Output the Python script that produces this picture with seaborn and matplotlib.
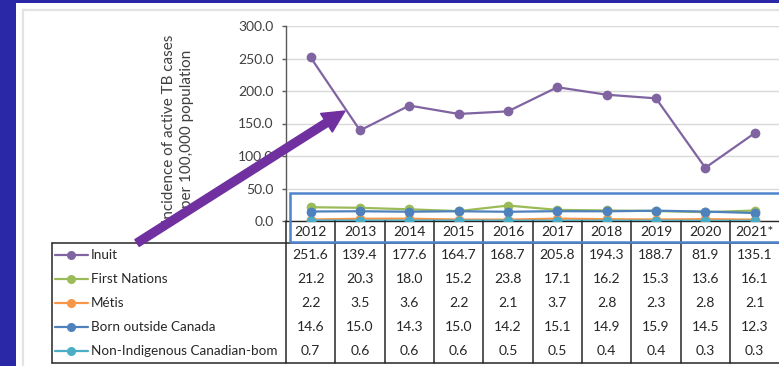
import numpy as np
import pandas as pd
import seaborn as sns
import matplotlib
matplotlib.use("Agg")
import matplotlib.pyplot as plt
from matplotlib.patches import Rectangle, FancyArrow
from matplotlib.lines import Line2D

# ---------------- data ----------------
years = ["2012", "2013", "2014", "2015", "2016", "2017", "2018", "2019", "2020", "2021*"]
series_names = ["Inuit", "First Nations", "Métis", "Born outside Canada", "Non-Indigenous Canadian-bom"]
inuit = [251.6, 139.4, 177.6, 164.7, 168.7, 205.8, 194.3, 188.7, 81.9, 135.1]
first_nations = [21.2, 20.3, 18.0, 15.2, 23.8, 17.1, 16.2, 15.3, 13.6, 16.1]
metis = [2.2, 3.5, 3.6, 2.2, 2.1, 3.7, 2.8, 2.3, 2.8, 2.1]
born_outside = [14.6, 15.0, 14.3, 15.0, 14.2, 15.1, 14.9, 15.9, 14.5, 12.3]
non_indigenous = [0.7, 0.6, 0.6, 0.6, 0.5, 0.5, 0.4, 0.4, 0.3, 0.3]
y_ticks = [0, 50, 100, 150, 200, 250, 300]
y_label = "Incidence of active TB cases\nper 100,000 population"

colors = ["#8064a2", "#9bbb59", "#f79646", "#4f81bd", "#4bacc6"]
values = [inuit, first_nations, metis, born_outside, non_indigenous]

rows = []
for name, vals in zip(series_names, values):
    for i, v in enumerate(vals):
        rows.append({"x": i, "year": years[i], "value": v, "group": name})
df = pd.DataFrame(rows)

# ---------------- figure ----------------
W, H = 779, 366
DPI = 100
sns.set_theme(style="white")
plt.rcParams["font.family"] = ["Lato", "DejaVu Sans"]

fig = plt.figure(figsize=(W / DPI, H / DPI), dpi=DPI)
fig.patch.set_facecolor("#2b28a8")

def fx(px):
    return px / W

def fy(py):
    return 1 - py / H

# white panel + faint inner frame
fig.patches.append(Rectangle((fx(16), 0), 1 - fx(16) + 0.01, fy(3), transform=fig.transFigure,
                             facecolor="white", edgecolor="none", zorder=-2))
fig.patches.append(Rectangle((fx(22.5), -0.05), 1.1, fy(9.5) + 0.05, transform=fig.transFigure,
                             facecolor="none", edgecolor="#e3e3e3", lw=1.6, zorder=-1))

px_unit = 49.33
ax_left, ax_right = 286, 779
ax_top, ax_bot = 26, 221
ax = fig.add_axes([fx(ax_left), fy(ax_bot), fx(ax_right - ax_left), (ax_bot - ax_top) / H])
ax.set_zorder(1)
ax.patch.set_alpha(0)
xmax = -0.5 + (ax_right - ax_left) / px_unit

sns.lineplot(data=df, x="x", y="value", hue="group", hue_order=series_names,
             palette=colors, marker="o", markersize=7, markeredgewidth=0,
             linewidth=1.6, legend=False, ax=ax, zorder=3)

ax.set_xlim(-0.5, xmax)
ax.set_ylim(0, 300)
ax.set_yticks(y_ticks)
ax.set_yticklabels([f"{t:.1f}" for t in y_ticks], fontsize=10, color="#404040")
ax.set_xticks([])
ax.set_xlabel("")
ax.set_ylabel("")
ax.grid(axis="y", color="#d9d9d9", lw=1)
ax.set_axisbelow(True)
for s in ["top", "right"]:
    ax.spines[s].set_visible(False)
ax.spines["left"].set_color("#595959")
ax.spines["left"].set_linewidth(1)
ax.spines["bottom"].set_color("#262626")
ax.spines["bottom"].set_linewidth(1)
ax.tick_params(axis="y", left=True, length=3, width=1, color="#595959", pad=6)

fig.text(fx(178), fy(129), y_label, rotation=90, ha="center", va="center",
         fontsize=11, color="#404040", linespacing=1.3, multialignment="center", zorder=2)

# ---------------- data table ----------------
tab_left, tab_top, tab_bot = 52, 221, 363
head_h = 22.0
row_h = 24.0
tx = fig.add_axes([fx(tab_left), fy(tab_bot), fx(W - tab_left), (tab_bot - tab_top) / H])
tx.set_zorder(1)
tx.patch.set_alpha(0)
tx.set_axis_off()
tx.set_xlim(-0.5 - (ax_left - tab_left) / px_unit, xmax)
hh = head_h / row_h
tx.set_ylim(5, -hh)
line_kw = dict(color="#262626", lw=1.1, clip_on=False)
fs = 10

# header year labels + vertical lines
for i, y in enumerate(years):
    tx.text(i, -hh / 2, y, ha="center", va="center", fontsize=fs, color="#262626")
for k in range(len(years)):
    tx.plot([k - 0.5, k - 0.5], [-hh, 5], **line_kw)
lab_left = tx.get_xlim()[0]
tx.plot([lab_left, lab_left], [0, 5], **line_kw)
tx.plot([lab_left, xmax + 1], [0, 0], **line_kw)
tx.plot([lab_left, xmax + 1], [5, 5], **line_kw)

for r, (name, vals, c) in enumerate(zip(series_names, values, colors)):
    yc = r + 0.5
    for i, v in enumerate(vals):
        tx.text(i, yc, f"{v:.1f}", ha="center", va="center", fontsize=fs, color="#262626")
    fig.text(fx(91), fy(tab_top + head_h + row_h * yc), name, ha="left", va="center",
             fontsize=9.7, color="#262626", zorder=3)
    fig.lines.append(Line2D([fx(55), fx(88)], [fy(tab_top + head_h + row_h * yc)] * 2,
                            transform=fig.transFigure, color=c, lw=1.6, zorder=3))
    fig.lines.append(Line2D([fx(71)], [fy(tab_top + head_h + row_h * yc)],
                            transform=fig.transFigure, color=c, marker="o",
                            markersize=6.5, markeredgewidth=0, zorder=3))

# blue highlight box
fig.patches.append(Rectangle((fx(290), fy(242)), fx(W + 20 - 290), (242 - 193) / H,
                             transform=fig.transFigure, facecolor="none",
                             edgecolor="#4f84cc", lw=1.8, zorder=6))

# purple arrow (pixel coords, y from bottom)
x0, y0 = 137, H - 243
x1, y1 = 345, H - 111
arr = FancyArrow(x0, y0, x1 - x0, y1 - y0, width=8, head_width=22, head_length=22,
                 length_includes_head=True, color="#7030a0", transform=None, zorder=10)
fig.patches.append(arr)

fig.savefig("out.png", dpi=DPI, facecolor=fig.get_facecolor())
